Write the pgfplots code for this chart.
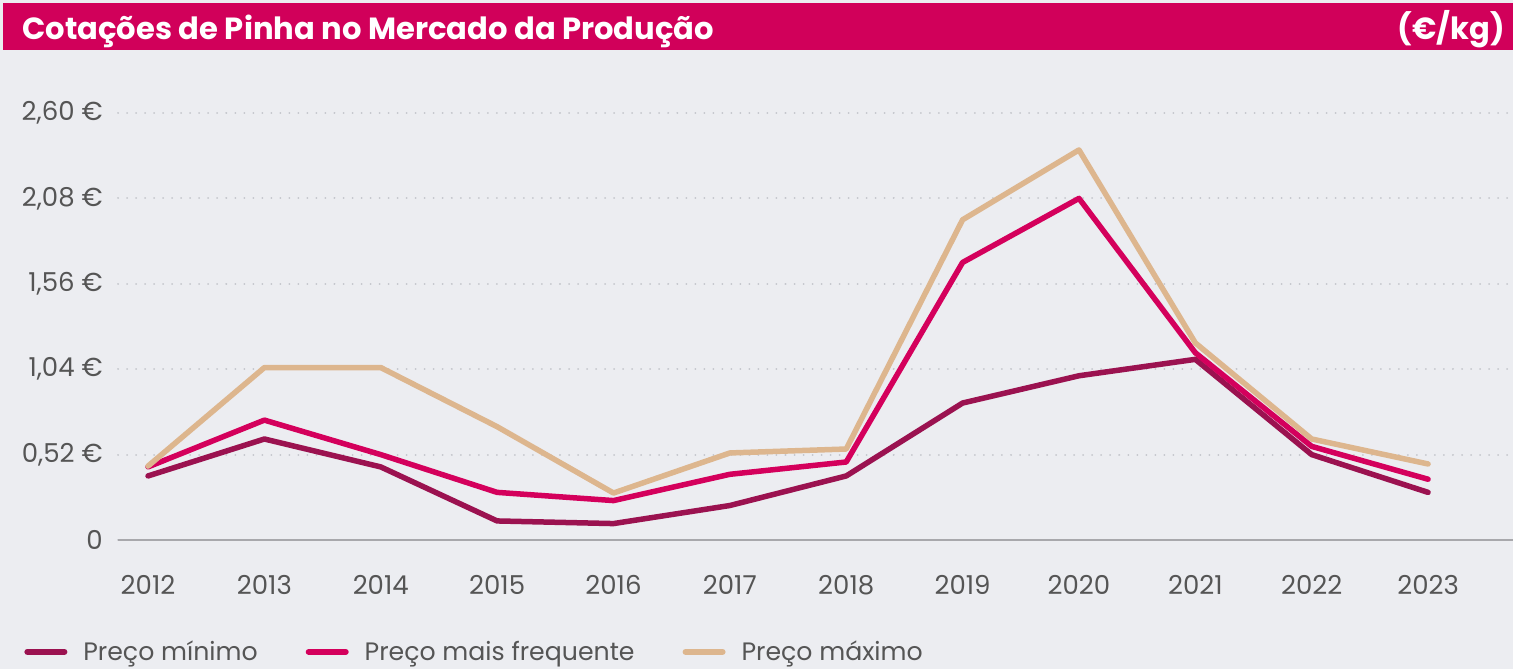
\documentclass[border=0pt]{standalone}
\usepackage{pgfplots}
\pgfplotsset{compat=1.18}
\usepackage{fontspec}
\setmainfont{Poppins}
\definecolor{bg}{HTML}{ECEDF1}
\definecolor{titlebar}{HTML}{D1005A}
\definecolor{cmin}{HTML}{9B1250}
\definecolor{cfreq}{HTML}{D4005C}
\definecolor{cmax}{HTML}{DDB68E}
\definecolor{txt}{HTML}{555555}
\definecolor{gridc}{HTML}{C4C6CC}
\definecolor{axisc}{HTML}{A8A8AC}
\begin{document}
\begin{tikzpicture}[x=1pt,y=1pt]
\useasboundingbox (0,0) rectangle (756.5,334.5);
\fill[bg] (0,0) rectangle (756.5,334.5);
\fill[titlebar] (1.5,309.5) rectangle (756.5,333);
\node[anchor=base west, text=white, font=\fontsize{15.3}{15.3}\selectfont\bfseries, inner sep=0] at (11,314.5) {Cotações de Pinha no Mercado da Produção};
\node[anchor=base east, text=white, font=\fontsize{15.3}{15.3}\selectfont\bfseries, inner sep=0] at (752.5,314.5) {(€/kg)};
\begin{axis}[
  at={(59pt,64.5pt)}, anchor=south west,
  scale only axis, width=697.5pt, height=213.5pt,
  xmin=2011.742, xmax=2023.73, ymin=0, ymax=2.6,
  axis x line=bottom, axis y line=left,
  x axis line style={-, draw=axisc, line width=1pt},
  y axis line style={draw=none},
  tick style={draw=none},
  xtick={2012,2013,2014,2015,2016,2017,2018,2019,2020,2021,2022,2023},
  xticklabels={2012,2013,2014,2015,2016,2017,2018,2019,2020,2021,2022,2023},
  ytick={0,0.52,1.04,1.56,2.08,2.6},
  yticklabels={0,{0,52 €},{1,04 €},{1,56 €},{2,08 €},{2,60 €}},
  ymajorgrids,
  grid style={gridc, line width=1pt, dash pattern=on 0.01pt off 4.5pt, line cap=round},
  ticklabel style={font=\fontsize{13}{13}\selectfont, text=txt},
  yticklabel style={anchor=east, xshift=-2pt},
  xticklabel style={anchor=north, yshift=-12pt},
  legend columns=-1,
  legend style={at={(axis description cs:-0.0674,-0.262)}, anchor=west, draw=none, fill=none, inner sep=0pt, font=\fontsize{12.6}{12.6}\selectfont, text=txt,
    /tikz/every odd column/.append style={column sep=6pt},
    /tikz/every even column/.append style={column sep=22pt}},
  legend image code/.code={\draw[#1, line width=3pt, line cap=round] (1.5pt,0pt) -- (20pt,0pt);},
  every axis plot/.append style={line width=2.75pt, line join=round, line cap=round},
]
\addplot[cmin] coordinates {(2012,0.39) (2013,0.615) (2014,0.445) (2015,0.116) (2016,0.10) (2017,0.21) (2018,0.39) (2019,0.834) (2020,1.0) (2021,1.10) (2022,0.52) (2023,0.29)};
\addlegendentry{Preço mínimo}
\addplot[cfreq] coordinates {(2012,0.445) (2013,0.73) (2014,0.52) (2015,0.29) (2016,0.24) (2017,0.40) (2018,0.475) (2019,1.69) (2020,2.08) (2021,1.14) (2022,0.57) (2023,0.37)};
\addlegendentry{Preço mais frequente}
\addplot[cmax] coordinates {(2012,0.45) (2013,1.05) (2014,1.05) (2015,0.69) (2016,0.286) (2017,0.53) (2018,0.554) (2019,1.95) (2020,2.375) (2021,1.2) (2022,0.615) (2023,0.463)};
\addlegendentry{Preço máximo}
\end{axis}
\end{tikzpicture}
\end{document}
